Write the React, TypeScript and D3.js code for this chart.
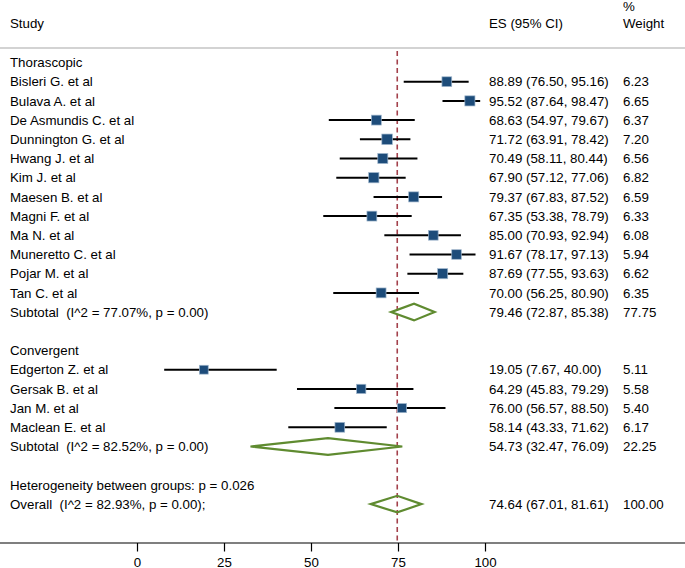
import React from 'react'
import * as d3 from 'd3'

// study rows, per subgroup
const groupNames = ['Thorascopic', 'Convergent']
const studyGroup = [0, 0, 0, 0, 0, 0, 0, 0, 0, 0, 0, 0, 1, 1, 1, 1]
const studyNames = [
  'Bisleri G. et al', 'Bulava A. et al', 'De Asmundis C. et al', 'Dunnington G. et al',
  'Hwang J. et al', 'Kim J. et al', 'Maesen B. et al', 'Magni F. et al',
  'Ma N. et al', 'Muneretto C. et al', 'Pojar M. et al', 'Tan C. et al',
  'Edgerton Z. et al', 'Gersak B. et al', 'Jan M. et al', 'Maclean E. et al',
]
const studyES = [88.89, 95.52, 68.63, 71.72, 70.49, 67.90, 79.37, 67.35, 85.00, 91.67, 87.69, 70.00, 19.05, 64.29, 76.00, 58.14]
const studyLo = [76.50, 87.64, 54.97, 63.91, 58.11, 57.12, 67.83, 53.38, 70.93, 78.17, 77.55, 56.25, 7.67, 45.83, 56.57, 43.33]
const studyHi = [95.16, 98.47, 79.67, 78.42, 80.44, 77.06, 87.52, 78.79, 92.94, 97.13, 93.63, 80.90, 40.00, 79.29, 88.50, 71.62]
const studyWeight = [6.23, 6.65, 6.37, 7.20, 6.56, 6.82, 6.59, 6.33, 6.08, 5.94, 6.62, 6.35, 5.11, 5.58, 5.40, 6.17]

// pooled estimates
const subLabels = ['Subtotal  (I^2 = 77.07%, p = 0.00)', 'Subtotal  (I^2 = 82.52%, p = 0.00)']
const subES = [79.46, 54.73]
const subLo = [72.87, 32.47]
const subHi = [85.38, 76.09]
const subWeight = [77.75, 22.25]

const hetText = 'Heterogeneity between groups: p = 0.026'
const overallLabel = 'Overall  (I^2 = 82.93%, p = 0.00);'
const overall = { es: 74.64, lo: 67.01, hi: 81.61, weight: 100.0 }

const tickValues = [0, 25, 50, 75, 100]

const W = 685
const H = 568
const font = '"Liberation Sans", Arial, Helvetica, sans-serif'

export default function App() {
  const x = d3.scaleLinear().domain([0, 100]).range([137.5, 485.5])
  const rowY = (i: number) => 62.5 + i * 19.2
  const boxSide = d3.scaleSqrt().domain([0, 6.5]).range([0, 10])
  const fmt = d3.format('.2f')
  const ciText = (e: number, l: number, h: number) => `${fmt(e)} (${fmt(l)}, ${fmt(h)})`

  // lay out the rows
  type Row = { kind: string; label: string; es?: number; lo?: number; hi?: number; w?: number; y: number }
  const rows: Row[] = []
  let r = 0
  groupNames.forEach((g, gi) => {
    rows.push({ kind: 'head', label: g, y: rowY(r++) })
    studyNames.forEach((s, i) => {
      if (studyGroup[i] !== gi) return
      rows.push({ kind: 'study', label: s, es: studyES[i], lo: studyLo[i], hi: studyHi[i], w: studyWeight[i], y: rowY(r++) })
    })
    rows.push({ kind: 'pool', label: subLabels[gi], es: subES[gi], lo: subLo[gi], hi: subHi[gi], w: subWeight[gi], y: rowY(r++) })
    r++
  })
  rows.push({ kind: 'head', label: hetText, y: rowY(r++) })
  rows.push({ kind: 'pool', label: overallLabel, es: overall.es, lo: overall.lo, hi: overall.hi, w: overall.weight, y: rowY(r++) })

  const axisY = 543
  const esX = 489
  const wX = 623
  const dh = 8.3

  return (
    <svg width={W} height={H} style={{ position: 'fixed', left: 0, top: 0, background: '#fff' }}
      fontFamily={font} fontSize={13.3}>
      {/* header */}
      <text x={10} y={28}>Study</text>
      <text x={esX} y={28}>ES (95% CI)</text>
      <text x={wX} y={10.5}>%</text>
      <text x={wX} y={28}>Weight</text>
      <line x1={0} x2={W} y1={48} y2={48} stroke="#c4c4c4" strokeWidth={1.5} />

      {/* overall estimate line */}
      <line x1={x(overall.es)} x2={x(overall.es)} y1={51} y2={axisY} stroke="#a3414c"
        strokeWidth={1.6} strokeDasharray="5,3.5" />

      {rows.map((d, i) => (
        <g key={i}>
          <text x={10} y={d.y + 4.7} style={{ whiteSpace: 'pre' }}>{d.label}</text>
          {d.kind === 'study' && (
            <g>
              <line x1={x(d.lo!)} x2={x(d.hi!)} y1={d.y} y2={d.y} stroke="#000" strokeWidth={2} />
              <rect x={x(d.es!) - boxSide(d.w!) / 2} y={d.y - boxSide(d.w!) / 2}
                width={boxSide(d.w!)} height={boxSide(d.w!)} fill="#1d4c7a" stroke="#9fb6cc" strokeWidth={0.7} />
            </g>
          )}
          {d.kind === 'pool' && (
            <path d={`M${x(d.lo!)},${d.y}L${x(d.es!)},${d.y - dh}L${x(d.hi!)},${d.y}L${x(d.es!)},${d.y + dh}Z`}
              fill="none" stroke="#5f8b30" strokeWidth={2.2} />
          )}
          {d.es !== undefined && (
            <g>
              <text x={esX} y={d.y + 4.7}>{ciText(d.es, d.lo!, d.hi!)}</text>
              <text x={wX} y={d.y + 4.7}>{fmt(d.w!)}</text>
            </g>
          )}
        </g>
      ))}

      {/* axis */}
      <line x1={0} x2={W} y1={axisY} y2={axisY} stroke="#000" strokeWidth={1.2} />
      {tickValues.map(t => (
        <g key={t} transform={`translate(${x(t)},${axisY})`}>
          <line y1={0} y2={8.5} stroke="#000" strokeWidth={1.2} />
          <text y={23.5} textAnchor="middle">{t}</text>
        </g>
      ))}
    </svg>
  )
}
